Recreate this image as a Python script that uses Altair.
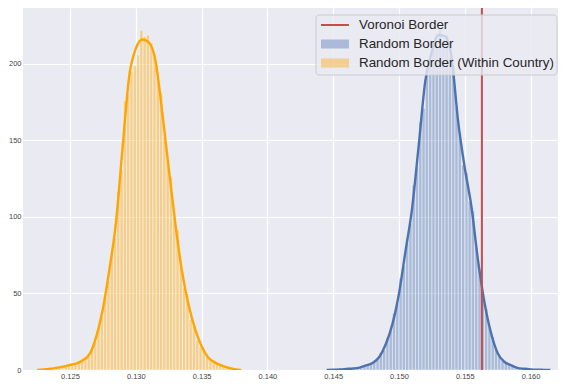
import altair as alt
import pandas as pd
import numpy as np

# ---------------- data ----------------
series_names = ["Voronoi Border", "Random Border", "Random Border (Within Country)"]
voronoi_value = 0.1563

bin_width = 0.00025

orange_first_edge = 0.1228
orange_density = [0.0, 0.4, 0.0, 0.8, 1.2, 2.0, 1.6, 2.4, 3.6, 2.8,
                  4.4, 5.6, 6.0, 8.4, 9.2, 14.8, 18.4, 27.6, 35.2, 49.6,
                  58, 75, 86, 117, 131, 176, 180, 195, 199, 206,
                  222, 218, 219, 214, 205, 191, 181, 152, 138, 126,
                  100, 92, 72, 54, 46, 33, 30, 19.6, 15.2, 12.4,
                  8.8, 6.8, 5.6, 4.0, 3.2, 2.0, 1.6, 1.2, 0.4, 0.4]

blue_first_edge = 0.1445
blue_density = [0.0, 0.0, 0.4, 0.0, 0.4, 0.8, 0.4, 1.2, 0.8, 1.6,
                2.0, 2.4, 3.6, 4.4, 6.0, 7.2, 11.2, 13.2, 21.2, 25.6,
                37.2, 43.6, 60, 68, 86, 96, 121, 133, 162, 171,
                196, 200, 214, 212, 223, 216, 219, 205, 199, 172,
                155, 134, 129, 110, 104, 80, 66, 47, 40, 28,
                21.6, 13.6, 9.2, 6.4, 5.2, 3.6, 2.8, 2.4, 1.2, 1.2,
                0.4, 0.8, 0.0, 0.4, 0.0, 0.0, 0.0, 0.0]

orange_kde_x = [0.1225, 0.1230, 0.1235, 0.1240, 0.1245, 0.1250, 0.1255, 0.1260,
                0.1265, 0.1270, 0.1275, 0.1280, 0.1285, 0.1290, 0.1295, 0.1300,
                0.1305, 0.1310, 0.1315, 0.1320, 0.1325, 0.1330, 0.1335, 0.1340,
                0.1345, 0.1350, 0.1355, 0.1360, 0.1365, 0.1370, 0.1375, 0.1380]
orange_kde_y = [0.0, 0.3, 0.8, 1.5, 2.2, 3.3, 4.3, 6.5,
                10.5, 22, 40, 66, 97, 146, 192, 210,
                216, 214, 202, 169, 132, 96, 65, 43,
                27, 15.5, 8.2, 5.0, 3.0, 1.6, 0.6, 0.0]

blue_kde_x = [0.1445, 0.1450, 0.1455, 0.1460, 0.1465, 0.1470, 0.1475, 0.1480,
              0.1485, 0.1490, 0.1495, 0.1500, 0.1505, 0.1510, 0.1515, 0.1520,
              0.1525, 0.1530, 0.1535, 0.1540, 0.1545, 0.1550, 0.1555, 0.1560,
              0.1565, 0.1570, 0.1575, 0.1580, 0.1585, 0.1590, 0.1595, 0.1600,
              0.1605, 0.1610, 0.1615]
blue_kde_y = [0.0, 0.2, 0.4, 0.7, 1.0, 1.6, 3.0, 4.6,
              8.5, 17, 30, 50, 78, 106, 147, 189,
              208, 219, 218, 204, 162, 132, 107, 72,
              44, 24, 11, 5.4, 3.2, 1.4, 0.8, 0.4,
              0.2, 0.1, 0.0]

x_ticks = [0.125, 0.130, 0.135, 0.140, 0.145, 0.150, 0.155, 0.160]
y_ticks = [0, 50, 100, 150, 200]

colors = {"Voronoi Border": "#C44E52",
          "Random Border": "#4C72B0",
          "Random Border (Within Country)": "#FFA500"}

# ---------------- tables ----------------
def hist_table(first_edge, dens, name):
    starts = first_edge + bin_width * np.arange(len(dens))
    return pd.DataFrame({"start": starts, "end": starts + bin_width,
                         "density": dens, "series": name})

hist_df = pd.concat([hist_table(orange_first_edge, orange_density, series_names[2]),
                     hist_table(blue_first_edge, blue_density, series_names[1])])
kde_df = pd.concat([pd.DataFrame({"x": orange_kde_x, "y": orange_kde_y, "series": series_names[2]}),
                    pd.DataFrame({"x": blue_kde_x, "y": blue_kde_y, "series": series_names[1]})])
rule_df = pd.DataFrame({"x": [voronoi_value]})

FONT = "Liberation Sans"
x_scale = alt.Scale(domain=[0.121428, 0.162083], nice=False, zero=False)
y_scale = alt.Scale(domain=[0, 236.6], nice=False)
color_scale = alt.Scale(domain=series_names[1:], range=[colors[n] for n in series_names[1:]])

x_axis = alt.Axis(values=x_ticks, format=".3f", title=None, grid=True, gridColor="white",
                  gridWidth=1.2, domain=False, ticks=False, tickSize=0, labelPadding=2,
                  labelFontSize=7.5, labelColor="#444444", labelFont=FONT)
y_axis = alt.Axis(values=y_ticks, title=None, grid=True, gridColor="white",
                  gridWidth=1.2, domain=False, ticks=False, tickSize=0, labelPadding=2,
                  labelFontSize=7.5, labelColor="#444444", labelFont=FONT)

bars = alt.Chart(hist_df).mark_rect(fillOpacity=0.4, stroke="white", strokeWidth=0.6,
                                    strokeOpacity=0.7, clip=True).encode(
    x=alt.X("start:Q", scale=x_scale, axis=x_axis),
    x2="end:Q",
    y=alt.Y("density:Q", scale=y_scale, axis=y_axis),
    y2=alt.datum(0),
    color=alt.Color("series:N", scale=color_scale, legend=None),
)

lines = alt.Chart(kde_df).mark_line(strokeWidth=2.4, interpolate="monotone", clip=True).encode(
    x=alt.X("x:Q", scale=x_scale),
    y=alt.Y("y:Q", scale=y_scale),
    color=alt.Color("series:N", scale=color_scale, legend=None),
    detail="series:N",
)

rule = alt.Chart(rule_df).mark_rule(color=colors["Voronoi Border"], strokeWidth=2).encode(
    x=alt.X("x:Q", scale=x_scale),
)

# ---------------- hand-made legend ----------------
one = pd.DataFrame({"k": [0]})
legend_box = alt.Chart(one).mark_rect(fill="#EAEAF2", fillOpacity=0.8, stroke="#CCCCCC",
                                      strokeWidth=1, cornerRadius=3).encode(
    x=alt.value(293), x2=alt.value(534), y=alt.value(7), y2=alt.value(67))
legend_line = alt.Chart(one).mark_rule(color=colors["Voronoi Border"], strokeWidth=2).encode(
    x=alt.value(298), x2=alt.value(326), y=alt.value(17))
legend_patch_b = alt.Chart(one).mark_rect(fill=colors["Random Border"], fillOpacity=0.4).encode(
    x=alt.value(298), x2=alt.value(326), y=alt.value(31.5), y2=alt.value(40.5))
legend_patch_o = alt.Chart(one).mark_rect(fill=colors["Random Border (Within Country)"], fillOpacity=0.4).encode(
    x=alt.value(298), x2=alt.value(326), y=alt.value(50.5), y2=alt.value(59.5))

legend_texts = []
for name, ypos in zip(series_names, [16.5, 35.5, 55.0]):
    legend_texts.append(
        alt.Chart(pd.DataFrame({"label": [name]})).mark_text(
            align="left", baseline="middle", font=FONT, fontSize=13.4, color="#262626").encode(
            x=alt.value(336), y=alt.value(ypos), text="label:N"))

chart = alt.layer(bars, lines, rule, legend_box, legend_line, legend_patch_b, legend_patch_o,
                  *legend_texts).properties(
    width=535, height=362,
    padding={"left": 15, "top": 0, "right": 0, "bottom": 10},
    autosize=alt.AutoSizeParams(type="none"),
    background="white",
).configure_view(fill="#EAEAF2", stroke=None)

chart.save("out.html", embed_options={"renderer": "svg", "actions": False})
